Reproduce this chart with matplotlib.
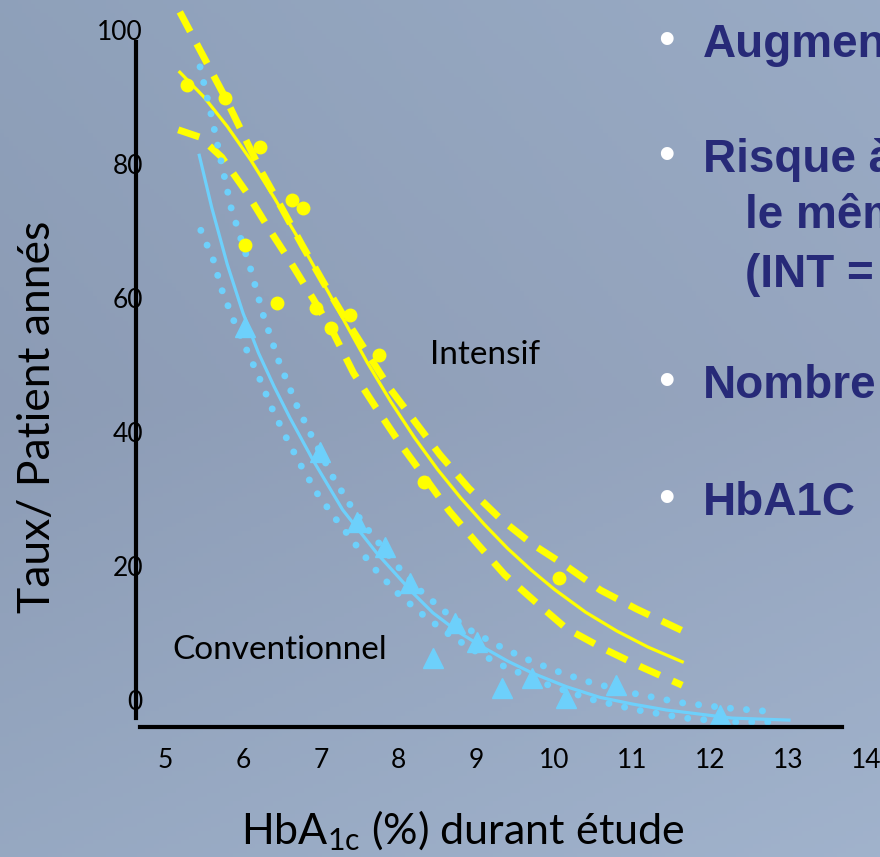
import numpy as np
import matplotlib
matplotlib.use("Agg")
import matplotlib.pyplot as plt

plt.rcParams['font.family'] = ['Lato', 'DejaVu Sans']

# ---- données ----
# Intensif (jaune) : points observés
int_x = [5.28, 5.77, 6.22, 6.03, 6.44, 6.63, 6.77, 6.94, 7.13, 7.37, 7.75, 8.33, 10.06]
int_y = [91.8, 89.9, 82.5, 67.9, 59.3, 74.6, 73.4, 58.5, 55.5, 57.5, 51.5, 32.5, 18.2]

# Intensif : courbe ajustée + IC
int_fit_x = [5.19, 5.50, 5.80, 6.10, 6.40, 6.70, 7.00, 7.30, 7.60, 7.90, 8.20, 8.50,
             8.80, 9.10, 9.40, 9.70, 10.00, 10.40, 10.80, 11.20, 11.64]
int_fit_y = [93.7, 90.0, 85.6, 80.6, 75.0, 69.1, 62.9, 56.6, 50.3, 44.5, 39.2, 34.4,
             30.1, 26.2, 22.6, 19.4, 16.5, 13.1, 10.3, 7.9, 5.7]
int_hi_x = [5.19, 5.45, 5.77, 6.00, 6.24, 6.50, 6.76, 7.03, 7.31, 7.88, 8.53, 8.90,
            9.31, 9.71, 10.15, 10.59, 11.05, 11.63]
int_hi_y = [102.7, 97.0, 90.0, 84.5, 78.8, 73.4, 67.9, 62.4, 57.0, 46.6, 36.6, 31.6,
            27.0, 23.3, 20.0, 16.4, 13.6, 10.4]
int_lo_x = [5.17, 5.45, 5.73, 6.05, 6.33, 6.62, 6.90, 7.17, 7.42, 7.71, 8.01, 8.33,
            8.65, 9.01, 9.36, 9.76, 10.15, 10.64, 11.12, 11.64]
int_lo_y = [85.1, 84.0, 81.0, 75.7, 70.4, 65.2, 59.9, 54.6, 48.8, 43.6, 38.4, 33.3,
            28.2, 23.3, 18.7, 14.6, 10.7, 7.6, 4.9, 2.2]

# Conventionnel (bleu) : points observés
conv_x = [6.03, 6.99, 7.46, 7.82, 8.14, 8.44, 8.72, 9.00, 9.32, 9.71, 10.15, 10.79, 12.12]
conv_y = [55.7, 37.0, 26.6, 22.8, 17.5, 6.3, 11.5, 8.7, 1.8, 3.3, 0.3, 2.2, -2.2]

# Conventionnel : courbe ajustée + IC
conv_fit_x = [5.44, 5.60, 5.80, 6.00, 6.20, 6.40, 6.60, 6.90, 7.28, 7.72, 8.18, 8.44,
              8.76, 9.08, 9.40, 9.72, 10.15, 10.58, 11.00, 11.44, 12.28, 13.01]
conv_fit_y = [81.3, 73.5, 65.0, 57.8, 51.8, 46.8, 42.2, 35.8, 28.4, 21.9, 16.0, 13.0,
              10.2, 7.9, 5.8, 4.0, 2.0, 0.4, -0.6, -1.5, -2.7, -3.0]
conv_hi_x = [5.45, 5.59, 5.72, 5.85, 5.97, 6.10, 6.26, 6.46, 6.69, 6.87, 7.15, 7.36,
             7.60, 7.99, 8.27, 8.58, 8.92, 9.28, 9.64, 10.03, 10.41, 11.01, 11.62,
             12.22, 12.85]
conv_hi_y = [94.5, 87.5, 80.4, 73.4, 69.0, 64.3, 57.5, 50.6, 44.0, 39.7, 33.4, 29.4,
             25.5, 19.9, 16.4, 13.3, 10.4, 8.1, 6.1, 4.3, 2.8, 1.0, -0.4, -1.2, -1.8]
conv_lo_x = [5.46, 5.62, 5.73, 5.88, 6.05, 6.21, 6.37, 6.55, 6.74, 6.95, 7.18, 7.44,
             7.69, 7.97, 8.28, 8.62, 8.95, 9.32, 9.88, 10.47, 11.06, 11.67, 12.28, 12.91]
conv_lo_y = [70.1, 65.7, 61.2, 56.7, 52.2, 48.1, 43.6, 39.3, 35.1, 30.9, 27.2, 23.3,
             19.6, 16.1, 13.0, 10.0, 7.5, 5.2, 2.4, 0.1, -1.5, -2.7, -3.3, -3.3]

xticks = [5, 6, 7, 8, 9, 10, 11, 12, 13, 14]
yticks = [0, 20, 40, 60, 80, 100]

bullets = [("Augmentation", 57, True), ("Risque à", 172, True), ("le même", 228, False),
           ("(INT = CONV)", 287, False), ("Nombre", 398, True), ("HbA1C", 515, True)]

YELLOW = '#ffff00'
BLUE = '#6dd0fb'
NAVY = '#272a78'

W, H = 880, 857
fig = plt.figure(figsize=(W / 100, H / 100), dpi=100)
ax = fig.add_axes([0, 0, 1, 1])

# échelle : 5 -> 165 px, 14 -> 866 px ; 0 -> 700 px, 100 -> 30 px
xlim = (5 - 165 / 77.9, 5 + (W - 165) / 77.9)
ylim = (-(H - 700) / 6.7, 700 / 6.7)

# fond dégradé du diaporama
rows = np.linspace(0, 1, 200)
cols = np.linspace(0, 1, 200)
c_top = np.array([0.56, 0.63, 0.73])
c_mid = np.array([0.55, 0.61, 0.71])
c_low = np.array([0.59, 0.66, 0.76])
R, C = np.meshgrid(rows, cols, indexing='ij')
base = np.where(R[..., None] < 0.47,
                c_top + (c_mid - c_top) * (R[..., None] / 0.47),
                c_mid + (c_low - c_mid) * ((R[..., None] - 0.47) / 0.53))
bg = np.clip(base + 0.04 * C[..., None], 0, 1)
ax.imshow(bg, extent=[xlim[0], xlim[1], ylim[0], ylim[1]], aspect='auto', zorder=0,
          origin='upper')
ax.set_xlim(*xlim)
ax.set_ylim(*ylim)

# courbes jaunes (Intensif)
ax.plot(int_hi_x, int_hi_y, color=YELLOW, lw=5, linestyle=(0, (3.2, 2.0)), zorder=3)
ax.plot(int_lo_x, int_lo_y, color=YELLOW, lw=5, linestyle=(0, (3.2, 2.0)), zorder=3)
ax.plot(int_fit_x, int_fit_y, color=YELLOW, lw=2.3, zorder=3)
ax.plot(int_x, int_y, 'o', color=YELLOW, ms=9, zorder=4)

# courbes bleues (Conventionnel)
ax.plot(conv_hi_x, conv_hi_y, color=BLUE, lw=5, linestyle=(0, (0.01, 2.3)),
        dash_capstyle='round', zorder=3)
ax.plot(conv_lo_x, conv_lo_y, color=BLUE, lw=5, linestyle=(0, (0.01, 2.3)),
        dash_capstyle='round', zorder=3)
ax.plot(conv_fit_x, conv_fit_y, color=BLUE, lw=2.3, zorder=3)
ax.plot(conv_x, conv_y, '^', color=BLUE, ms=14, zorder=4)

ax.text(8.40, 51.5, "Intensif", fontsize=24, color='black', va='center', ha='left')
ax.text(5.1, 7.5, "Conventionnel", fontsize=24, color='black', va='center', ha='left')

# axes
for s in ['top', 'right']:
    ax.spines[s].set_visible(False)
ax.spines['left'].set_position(('data', 5 + (136 - 165) / 77.9))
ax.spines['left'].set_bounds(-2.7, 98.2)
ax.spines['bottom'].set_position(('data', -27 / 6.7))
ax.spines['bottom'].set_bounds(5 + (140 - 165) / 77.9, 5 + (842 - 165) / 77.9)
for s in ['left', 'bottom']:
    ax.spines[s].set_linewidth(3)
    ax.spines[s].set_color('black')
    ax.spines[s].set_zorder(5)

ax.set_xticks(xticks)
ax.set_xticklabels([str(v) for v in xticks])
ax.set_yticks(yticks)
ax.set_yticklabels([str(v) for v in yticks])
ax.tick_params(axis='x', length=0, pad=15, labelsize=19)
ax.tick_params(axis='y', length=0, pad=-5, labelsize=19)

ax.set_xlabel(r"HbA$_{\mathregular{1c}}$ (%) durant étude", fontsize=31)
ax.xaxis.set_label_coords(463 / W, 1 - 808 / H)
ax.set_ylabel("Taux/ Patient annés", fontsize=32)
ax.yaxis.set_label_coords(58 / W, 1 - 417 / H)

# texte du diaporama à droite (coupé par le bord)
for txt, yb, has_dot in bullets:
    x0 = 703 if has_dot else 745
    ax.text(x0 / W, 1 - yb / H, txt, transform=ax.transAxes, fontsize=33,
            fontweight='bold', color=NAVY, family=['Liberation Sans', 'DejaVu Sans'],
            va='baseline', ha='left', clip_on=True)
    if has_dot:
        ax.text(666 / W, 1 - (yb - 15) / H, "•", transform=ax.transAxes, fontsize=34,
                color='white', family=['Liberation Sans', 'DejaVu Sans'],
                va='center', ha='center')

fig.savefig("out.png", dpi=100)
